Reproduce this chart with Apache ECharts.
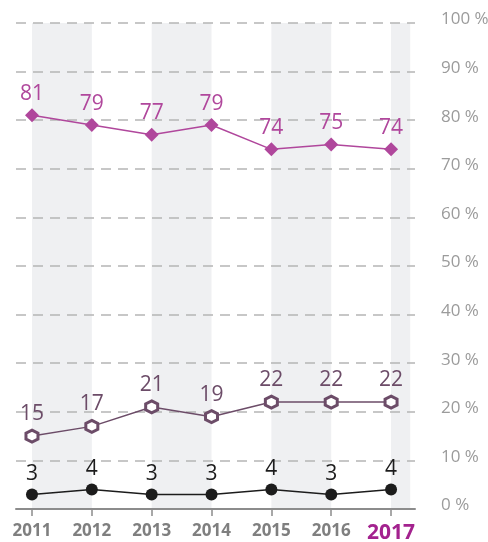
<!DOCTYPE html>
<html>
<head>
<meta charset="utf-8">
<script src="https://cdn.jsdelivr.net/npm/echarts@6/dist/echarts.min.js"></script>
<style>
  html, body { margin: 0; padding: 0; background: #fff; }
  #chart { width: 488px; height: 542px; }
</style>
</head>
<body>
<div id="chart"></div>
<script>
const years = [2011, 2012, 2013, 2014, 2015, 2016, 2017];
const topValues = [81, 79, 77, 79, 74, 75, 74];      // magenta line
const middleValues = [15, 17, 21, 19, 22, 22, 22];   // hollow hexagons
const bottomValues = [3, 4, 3, 3, 4, 3, 4];          // black dots
const bandStarts = [2011, 2013, 2015, 2017];
const bandEnds = [2012, 2014, 2016, 2017.32];
const yTicks = [0, 10, 20, 30, 40, 50, 60, 70, 80, 90, 100];

const FONT = 'Open Sans';
const pair = (vals) => vals.map((v, i) => [years[i], v]);
const hexagon = 'path://M0,-10 L8.66,-5 L8.66,5 L0,10 L-8.66,5 L-8.66,-5 Z';

const chart = echarts.init(document.getElementById('chart'));

const lineSeries = (name, values, color, symbol, size, extra) => Object.assign({
  name,
  type: 'line',
  z: 3,
  data: pair(values),
  symbol,
  symbolSize: size,
  showAllSymbol: true,
  lineStyle: { color, width: 1.5 },
  itemStyle: { color },
  label: {
    show: true,
    position: 'top',
    distance: 4,
    fontFamily: FONT,
    fontSize: 21,
    color,
    formatter: (p) => p.value[1],
  },
  animation: false,
}, extra);

chart.setOption({
  backgroundColor: '#fff',
  grid: { left: 16, right: 73, top: 23, bottom: 33, outerBoundsMode: 'none', containLabel: false },
  xAxis: {
    type: 'value',
    min: 2010.733,
    max: 2017.4,
    z: 2,
    splitLine: { show: false },
    axisLine: { show: true, lineStyle: { color: '#8c8c8c', width: 2 } },
    axisTick: { show: true, customValues: years, length: 7, lineStyle: { color: '#8c8c8c', width: 1.5 } },
    axisLabel: {
      customValues: years,
      margin: 14,
      fontFamily: FONT,
      fontSize: 17,
      fontWeight: 'bold',
      color: '#7f7f7f',
      formatter: (v) => (v === years[years.length - 1] ? '{hl|' + v + '}' : String(v)),
      rich: {
        hl: { fontFamily: FONT, fontSize: 21, fontWeight: 'bold', color: '#a3228e' },
      },
    },
  },
  yAxis: {
    type: 'value',
    position: 'right',
    min: yTicks[0],
    max: yTicks[yTicks.length - 1],
    interval: 10,
    z: 2,
    axisLine: { show: false },
    axisTick: { show: false },
    splitLine: { show: true, lineStyle: { color: '#b5b5b5', width: 1.5, type: [10, 7] } },
    axisLabel: {
      margin: 26,
      verticalAlign: 'bottom',
      lineHeight: 7,
      fontFamily: FONT,
      fontSize: 17,
      color: '#9b9b9b',
      formatter: (v) => v + ' %',
    },
  },
  series: [
    lineSeries('top', topValues, '#b0479c', 'diamond', 14, {
      markArea: {
        silent: true,
        z: 1,
        itemStyle: { color: '#eff0f2' },
        data: bandStarts.map((s, i) => [{ xAxis: s }, { xAxis: bandEnds[i] }]),
      },
    }),
    lineSeries('middle', middleValues, '#6c4c68', hexagon, 12, {
      itemStyle: { color: '#fff', borderColor: '#6c4c68', borderWidth: 3 },
    }),
    lineSeries('bottom', bottomValues, '#1c1c1c', 'circle', 12),
  ],
});
</script>
</body>
</html>
